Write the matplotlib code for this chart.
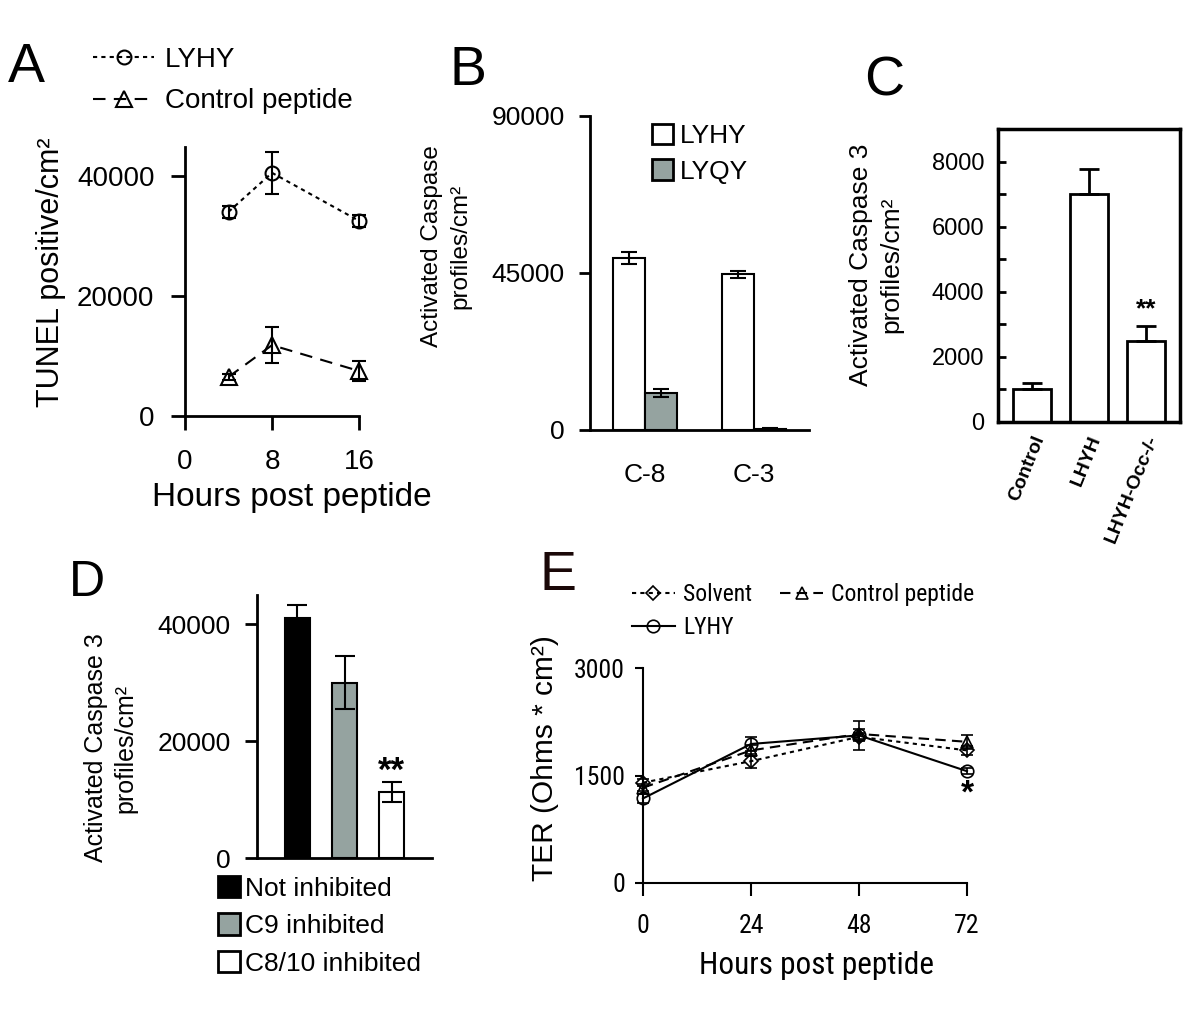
import matplotlib
matplotlib.use("Agg")
import matplotlib.pyplot as plt
from matplotlib import font_manager as fm
from matplotlib.ticker import MultipleLocator
from matplotlib.patches import Patch
from matplotlib.lines import Line2D
import numpy as np

plt.rcParams['font.family'] = ['Liberation Sans', 'DejaVu Sans']
GRAY = '#95a3a0'

# panel E uses a condensed face in the original; pick one if there is one
_names = {f.name for f in fm.fontManager.ttflist}
_narrow = [n for n in ('Liberation Sans Narrow', 'Arial Narrow',
                       'Roboto Condensed', 'Open Sans Condensed') if n in _names]
if _narrow:
    NARROW = [_narrow[0], 'Liberation Sans']
    e_tick_fs, e_leg_fs, e_xlab_fs, e_ls = 18.5, 17, 22.5, 0.42
else:
    NARROW = ['Liberation Sans']
    e_tick_fs, e_leg_fs, e_xlab_fs, e_ls = 15, 15, 19, 0.62

# panel A data
a_hours = [4, 8, 16]
a_lyhy = [34000, 40500, 32500]
a_lyhy_err = [1000, 3500, 1000]
a_ctrl = [6500, 11800, 7500]
a_ctrl_err = [500, 3000, 1600]

# panel B data
b_groups = ['C-8', 'C-3']
b_lyhy = [49300, 44700]
b_lyhy_err = [1700, 1000]
b_lyqy = [10600, 400]
b_lyqy_err = [1200, 200]

# panel C data
c_labels = ['Control', 'LHYH', 'LHYH-Occ-/-']
c_values = [1000, 7000, 2500]
c_err = [200, 780, 450]

# panel D data
d_labels = ['Not inhibited', 'C9 inhibited', 'C8/10 inhibited']
d_values = [41000, 30000, 11300]
d_err = [2300, 4500, 1700]

# panel E data
e_hours = [0, 24, 48, 72]
e_solvent = [1400, 1700, 2040, 1850]
e_solvent_err = [50, 100, 60, 60]
e_ctrl = [1330, 1850, 2080, 1970]
e_ctrl_err = [50, 80, 70, 100]
e_lyhy = [1180, 1940, 2060, 1560]
e_lyhy_err = [60, 100, 200, 40]

W, H = 1200, 1010
fig = plt.figure(figsize=(W / 100, H / 100), dpi=100)


def box(l, r, t, b):
    return [l / W, 1 - b / H, (r - l) / W, (b - t) / H]


def open_axes(ax, lw=2):
    ax.spines['top'].set_visible(False)
    ax.spines['right'].set_visible(False)
    for s in ('left', 'bottom'):
        ax.spines[s].set_linewidth(lw)


# ---------------- A ----------------
axA = fig.add_axes(box(185, 359, 147, 416))
open_axes(axA)
ebA = dict(color='black', lw=1.5, mfc='none', mew=1.5, capsize=5,
           elinewidth=1.5, capthick=1.5, clip_on=False)
axA.errorbar(a_hours, a_lyhy, yerr=a_lyhy_err, dashes=(2, 2), marker='o',
             ms=10, **ebA)
axA.errorbar(a_hours, a_ctrl, yerr=a_ctrl_err, dashes=(6, 4), marker='^',
             ms=11, **ebA)
axA.set_xlim(0, 16)
axA.set_ylim(0, 44800)
axA.set_xticks([0, 8, 16])
axA.set_yticks([0, 20000, 40000])
axA.tick_params(labelsize=20, width=2, length=10)
axA.tick_params(axis='x', pad=14)
axA.tick_params(axis='y', pad=12)
axA.set_xlabel('Hours post peptide', fontsize=24, labelpad=5)
axA.xaxis.label.set_x(0.615)
fig.text(51 / W, 1 - 272 / H, 'TUNEL positive/cm²', rotation=90,
         ha='center', va='center', fontsize=22)
legA = [Line2D([], [], color='black', lw=1.5, dashes=(2, 2), marker='o',
               ms=10, mfc='none', mew=1.5),
        Line2D([], [], color='black', lw=1.5, dashes=(6, 4), marker='^',
               ms=11, mfc='none', mew=1.5)]
fig.legend(legA, ['LYHY', 'Control peptide'], loc='upper left',
           bbox_to_anchor=(93 / W, 1 - 47 / H), frameon=False, fontsize=20,
           handlelength=2.2, handletextpad=0.4, labelspacing=0.55,
           borderpad=0, borderaxespad=0)
fig.text(8 / W, 1 - 82 / H, 'A', fontsize=40, va='baseline')

# ---------------- B ----------------
axB = fig.add_axes(box(590, 809, 116, 430))
open_axes(axB)
xb = np.arange(len(b_groups))
bw = 0.29
ekB = dict(elinewidth=1.5, capthick=1.5)
axB.bar(xb - bw / 2, b_lyhy, bw, yerr=b_lyhy_err, color='white',
        edgecolor='black', lw=1.5, capsize=6, error_kw=ekB)
axB.bar(xb + bw / 2, b_lyqy, bw, yerr=b_lyqy_err, color=GRAY,
        edgecolor='black', lw=1.5, capsize=6, error_kw=ekB)
axB.set_xlim(-0.5, 1.5)
axB.set_ylim(0, 90000)
axB.set_yticks([0, 45000, 90000])
axB.set_xticks(xb)
axB.set_xticklabels(b_groups)
axB.tick_params(labelsize=19, width=2)
axB.tick_params(axis='y', length=8, pad=10)
axB.tick_params(axis='x', length=0, pad=24)
fig.text(446 / W, 1 - 246 / H, 'Activated Caspase\nprofiles/cm²', rotation=90,
         ha='center', va='center', fontsize=17.5, linespacing=1.4)
legB = [Patch(facecolor='white', edgecolor='black', lw=2),
        Patch(facecolor=GRAY, edgecolor='black', lw=2)]
fig.legend(legB, ['LYHY', 'LYQY'], loc='upper left',
           bbox_to_anchor=(652 / W, 1 - 124 / H), frameon=False, fontsize=19,
           handlelength=0.8, handleheight=0.8, handletextpad=0.25,
           labelspacing=0.42, borderpad=0, borderaxespad=0)
fig.text(450 / W, 1 - 85 / H, 'B', fontsize=40, va='baseline')

# ---------------- C ----------------
axC = fig.add_axes(box(998, 1180, 129, 422))
for s in axC.spines.values():
    s.set_linewidth(2.5)
xc = np.arange(len(c_labels))
axC.bar(xc, c_values, 0.68, color='white', edgecolor='black', lw=2)
axC.errorbar(xc, c_values, yerr=[[0] * len(c_err), c_err], fmt='none',
             ecolor='black', elinewidth=2, capsize=7, capthick=2)
axC.text(2, c_values[2] + c_err[2] + 520, '**', ha='center', va='center',
         fontsize=19, fontweight='bold')
axC.set_xlim(-0.6, 2.6)
axC.set_ylim(0, 9000)
axC.yaxis.set_major_locator(MultipleLocator(2000))
axC.yaxis.set_minor_locator(MultipleLocator(1000))
axC.tick_params(axis='y', which='both', direction='in', length=6, width=2,
                labelsize=17, pad=10)
axC.set_xticks(xc)
axC.set_xticklabels(c_labels, rotation=68, fontsize=14, fontweight='bold',
                    ha='right', rotation_mode='anchor')
axC.tick_params(axis='x', length=0, pad=8)
fig.text(876 / W, 1 - 265 / H, 'Activated Caspase 3\nprofiles/cm²', rotation=90,
         ha='center', va='center', fontsize=19, linespacing=1.3)
fig.text(864 / W, 1 - 95 / H, 'C', fontsize=40, va='baseline')

# ---------------- D ----------------
axD = fig.add_axes(box(257, 432, 595, 858))
open_axes(axD)
xd = np.arange(len(d_labels))
d_colors = ['black', GRAY, 'white']
axD.bar(xd, d_values, 0.53, yerr=d_err, color=d_colors, edgecolor='black',
        lw=1.5, capsize=7, error_kw=dict(elinewidth=1.5, capthick=1.5))
axD.text(2, d_values[2] + d_err[2] + 1900, '**', ha='center', va='center',
         fontsize=25, fontweight='bold')
axD.set_xlim(-0.86, 2.86)
axD.set_ylim(0, 45000)
axD.set_yticks([0, 20000, 40000])
axD.set_xticks([])
axD.tick_params(labelsize=19, width=2)
axD.tick_params(axis='y', length=9, pad=10)
fig.text(111 / W, 1 - 748 / H, 'Activated Caspase 3\nprofiles/cm²', rotation=90,
         ha='center', va='center', fontsize=18, linespacing=1.3)
legD = [Patch(facecolor=c, edgecolor='black', lw=2) for c in d_colors]
fig.legend(legD, d_labels, loc='upper left',
           bbox_to_anchor=(218 / W, 1 - 876 / H), frameon=False, fontsize=19,
           handlelength=0.83, handleheight=0.87, handletextpad=0.2,
           labelspacing=0.48, borderpad=0, borderaxespad=0)
fig.text(69 / W, 1 - 596 / H, 'D', fontsize=36, va='baseline')

# ---------------- E ----------------
axE = fig.add_axes(box(643, 967, 668, 883))
open_axes(axE, lw=1.5)
kw = dict(color='black', lw=1.5, mfc='none', mew=1.2, capsize=4,
          elinewidth=1.2, capthick=1.2, clip_on=False)
axE.errorbar(e_hours, e_solvent, yerr=e_solvent_err, dashes=(2, 2),
             marker='D', ms=7, **kw)
axE.errorbar(e_hours, e_ctrl, yerr=e_ctrl_err, dashes=(5, 3),
             marker='^', ms=9, **kw)
axE.errorbar(e_hours, e_lyhy, yerr=e_lyhy_err, linestyle='-',
             marker='o', ms=9, **kw)
axE.text(72, e_lyhy[3] - 320, '*', ha='center', va='center', fontsize=24,
         fontweight='bold')
axE.set_xlim(0, 72)
axE.set_ylim(0, 3000)
axE.set_xticks(e_hours)
axE.set_yticks([0, 1500, 3000])
for lab in axE.get_xticklabels() + axE.get_yticklabels():
    lab.set_family(NARROW)
axE.tick_params(labelsize=e_tick_fs, width=1.5)
axE.tick_params(axis='x', length=9, pad=13)
axE.tick_params(axis='y', length=6, pad=7)
axE.set_xlabel('Hours post peptide', fontsize=e_xlab_fs, family=NARROW,
               labelpad=10)
axE.xaxis.label.set_x(0.537)
fig.text(545 / W, 1 - 758 / H, 'TER (Ohms * cm²)', rotation=90,
         ha='center', va='center', fontsize=21.5)
hE_solv = Line2D([], [], color='black', lw=1.5, dashes=(2, 2), marker='D',
                 ms=7, mfc='none', mew=1.2)
hE_lyhy = Line2D([], [], color='black', lw=1.5, linestyle='-', marker='o',
                 ms=9, mfc='none', mew=1.2)
hE_ctrl = Line2D([], [], color='black', lw=1.5, dashes=(5, 3), marker='^',
                 ms=9, mfc='none', mew=1.2)
legE = dict(loc='upper left', frameon=False,
            prop=dict(family=NARROW, size=e_leg_fs),
            handlelength=43 / (e_leg_fs * 100 / 72),
            handletextpad=8 / (e_leg_fs * 100 / 72), labelspacing=e_ls,
            borderpad=0, borderaxespad=0)
fig.legend([hE_solv, hE_lyhy], ['Solvent', 'LYHY'],
           bbox_to_anchor=(632 / W, 1 - 583 / H), **legE)
fig.legend([hE_ctrl], ['Control peptide'],
           bbox_to_anchor=(780 / W, 1 - 583 / H), **legE)
fig.text(540 / W, 1 - 590 / H, 'E', fontsize=40, va='baseline',
         color='#1a0808')

fig.savefig('out.png', dpi=100)
